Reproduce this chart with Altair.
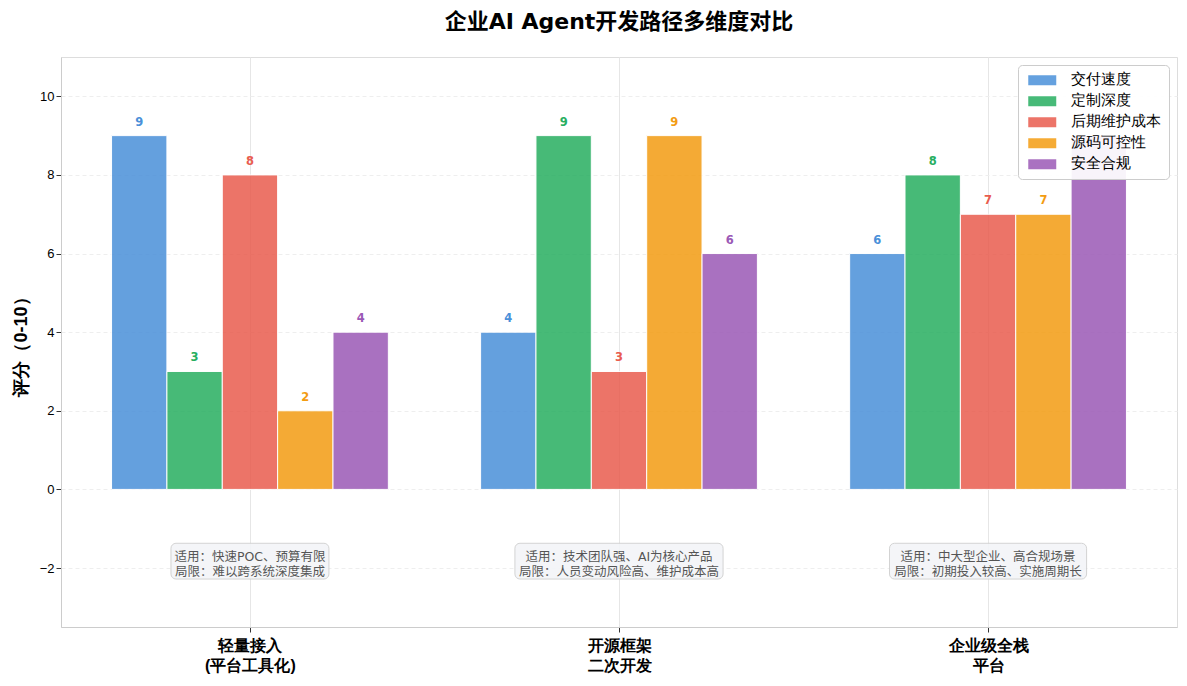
import json
import altair as alt
import pandas as pd

groups = ["轻量接入\n(平台工具化)", "开源框架\n二次开发", "企业级全栈\n平台"]
series = ["交付速度", "定制深度", "后期维护成本", "源码可控性", "安全合规"]
colors = ["#4A90D9", "#27AE60", "#E95C4E", "#F39C12", "#9B59B6"]
v_speed = [9, 4, 6]
v_custom = [3, 9, 8]
v_maint = [8, 3, 7]
v_source = [2, 9, 7]
v_secure = [4, 6, 9]
notes = [
    "适用：快速POC、预算有限\n局限：难以跨系统深度集成",
    "适用：技术团队强、AI为核心产品\n局限：人员变动风险高、维护成本高",
    "适用：中大型企业、高合规场景\n局限：初期投入较高、实施周期长",
]
note_half_width = [0.214, 0.282, 0.267]

values = [v_speed, v_custom, v_maint, v_source, v_secure]
rows = []
for si, s in enumerate(series):
    for gi in range(len(groups)):
        rows.append({"gi": gi, "si": si, "series": s, "value": values[si][gi]})
df = pd.DataFrame(rows)

ann = pd.DataFrame({"gi": list(range(len(groups))), "note": notes, "hw": note_half_width})

FONT = "DejaVu Sans, Noto Sans CJK SC"
BAR_W = 0.15

labels_js = json.dumps([g.split("\n") for g in groups], ensure_ascii=False)

xscale = alt.Scale(domain=[-0.512, 2.512], nice=False, zero=False)
yscale = alt.Scale(domain=[-3.5, 11], nice=False, zero=False)
cscale = alt.Scale(domain=series, range=colors)

base = alt.Chart(df).transform_calculate(
    xc=f"datum.gi + (datum.si - 2) * {BAR_W}",
    x0=f"datum.gi + (datum.si - 2) * {BAR_W} - {BAR_W/2}",
    x1=f"datum.gi + (datum.si - 2) * {BAR_W} + {BAR_W/2}",
    zero="0",
)

bars = base.mark_rect(opacity=0.85, stroke="white", strokeWidth=1).encode(
    x=alt.X("x0:Q", scale=xscale, axis=alt.Axis(
        values=[0, 1, 2], labelExpr=f"{labels_js}[datum.value]", title=None,
        labelFontSize=16, labelFontWeight="bold", labelLineHeight=20, labelColor="#000",
        grid=True, gridColor="#e6e6e6", gridWidth=1, tickSize=5, tickColor="#333",
        labelPadding=5, domainColor="#cccccc")),
    x2="x1:Q",
    y=alt.Y("value:Q", scale=yscale, axis=alt.Axis(
        values=[-2, 0, 2, 4, 6, 8, 10], title="评分（0-10）", titleFontSize=18,
        titleFontWeight="bold", titleColor="#000", labelFontSize=13, labelColor="#000",
        grid=True, gridColor="#eeeeee", gridDash=[4, 3], tickSize=5, tickColor="#333",
        titlePadding=9, domainColor="#cccccc")),
    y2="zero:Q",
    color=alt.Color("series:N", scale=cscale, sort=series, title=None, legend=alt.Legend(
        orient="top-right", offset=8, labelFontSize=14.5, labelColor="#000",
        symbolType="M-1,-1H4.6V1H-1Z", symbolSize=100, symbolStrokeWidth=0,
        symbolOpacity=0.85, rowPadding=6, padding=8, fillColor="rgba(255,255,255,0.92)",
        strokeColor="#cccccc", cornerRadius=4, labelOffset=30, zindex=5)),
)

labels = base.mark_text(fontSize=11.5, fontWeight="bold", dy=-13, font=FONT).encode(
    x=alt.X("xc:Q", scale=xscale),
    y=alt.Y("value:Q", scale=yscale),
    text=alt.Text("value:Q"),
    color=alt.Color("series:N", scale=cscale, legend=None),
)

ann_base = alt.Chart(ann).transform_calculate(
    bx0="datum.gi - datum.hw", bx1="datum.gi + datum.hw",
    by0="-1.37", by1="-2.28", ty="-1.73",
)
boxes = ann_base.mark_rect(cornerRadius=5, fill="#f3f5f8", stroke="#cfcfcf",
                           strokeWidth=1, opacity=0.9).encode(
    x=alt.X("bx0:Q", scale=xscale), x2="bx1:Q",
    y=alt.Y("by0:Q", scale=yscale), y2="by1:Q",
)
notes_text = ann_base.mark_text(fontSize=12.5, color="#555555", lineBreak="\n",
                                lineHeight=15, font=FONT).encode(
    x=alt.X("gi:Q", scale=xscale),
    y=alt.Y("ty:Q", scale=yscale),
    text="note:N",
)

chart = alt.layer(bars, labels, boxes, notes_text).properties(
    width=1116, height=570,
    autosize=alt.AutoSizeParams(type="none"),
    padding={"left": 53, "top": 49, "right": 2, "bottom": 51},
    title=alt.TitleParams("企业AI Agent开发路径多维度对比", fontSize=22, fontWeight="bold",
                          anchor="middle", offset=23, color="#000", font=FONT),
).configure_view(fill="#fcfcfc", stroke=None).configure_axis(
    labelFont=FONT, titleFont=FONT
).configure_legend(labelFont=FONT).configure(background="white")

chart.save("out.html", embed_options={"renderer": "svg", "actions": False})
